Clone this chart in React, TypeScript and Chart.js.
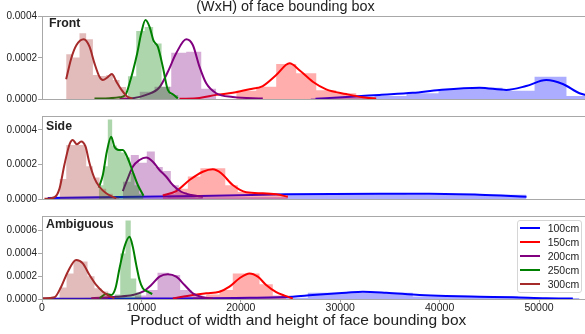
import React, { useEffect, useRef } from 'react';
import { Chart, registerables } from 'chart.js';
Chart.register(...registerables);

// ---------- data ----------
const SERIES = ['100cm', '150cm', '200cm', '250cm', '300cm'];
const X_MAX = 55730;
const X_TICKS = [0, 10000, 20000, 30000, 40000, 50000];
const PANELS = ['Front', 'Side', 'Ambiguous'];
const Y_MAX = [0.000403, 0.000481, 0.000729];
const Y_TICKS_FRONT = [0, 0.0002, 0.0004];
const Y_TICKS_SIDE = [0, 0.0002, 0.0004];
const Y_TICKS_AMBIG = [0, 0.0002, 0.0004, 0.0006];

// Front panel
const FRONT_HIST_EDGES = [
  [27010, 30230, 33450, 36670, 39890, 43110, 46330, 49550, 52760, 55980],
  [19540, 21550, 23560, 25570, 27590, 29600, 31610, 33620],
  [9810, 11320, 13000, 14510, 16020, 17520],
  [8630, 9480, 10330, 11180, 12030, 12880, 13730],
  [2430, 3100, 3770, 4440, 5120, 5780, 6460, 7130, 7800, 8470],
];
const FRONT_HIST_HEIGHTS = [
  [0.000005, 0.00001, 0.000015, 0.000028, 0.000047, 0.000055, 0.00004, 0.000108, 0.000015],
  [0.00004, 0.00006, 0.00017, 0.000125, 0.000042, 0.000028, 0.00001],
  [0.000035, 0.00006, 0.000225, 0.00023, 0.00005],
  [0.00011, 0.00033, 0.00035, 0.00027, 0.00006, 0.00002],
  [0.000217, 0.000202, 0.000319, 0.00029, 0.000116, 0.000112, 0.000116, 0.000092, 0.000058],
];
const FRONT_KDE_X = [
  [27510, 30600, 33950, 37300, 39990, 44010, 46700, 48710, 50720, 52390, 54070, 55580],
  [13830, 15840, 17520, 19190, 20870, 22210, 23560, 24900, 25900, 27240, 28590, 30600, 32270, 33620],
  [7800, 9130, 10480, 11820, 12660, 13500, 14510, 15170, 15840, 16520, 17520, 19190, 22210],
  [5280, 6790, 7800, 8400, 8900, 9130, 9580, 9980, 10410, 10810, 11220, 11650, 12150, 12660, 13160, 13660],
  [2430, 2940, 3470, 4200, 4780, 5280, 5780, 6120, 6590, 7020, 7490, 8000, 8500, 9100],
];
const FRONT_KDE_Y = [
  [0.000001, 0.00001, 0.00002, 0.00003, 0.000044, 0.000055, 0.000044, 0.000063, 0.000092, 0.000073, 0.000028, 0.00001],
  [0.000001, 0.000005, 0.00002, 0.00003, 0.000047, 0.000063, 0.000116, 0.000173, 0.00014, 0.000084, 0.000047, 0.000024, 0.000008, 0.000001],
  [0.000001, 0.000004, 0.00002, 0.000057, 0.000132, 0.000222, 0.00029, 0.000262, 0.000157, 0.000076, 0.000028, 0.00001, 0.000002],
  [0.000002, 0.000004, 0.000008, 0.00002, 0.000092, 0.000132, 0.000222, 0.000319, 0.000383, 0.000351, 0.000283, 0.000254, 0.000157, 0.000044, 0.000023, 0.000003],
  [0.0000955, 0.000197, 0.000262, 0.00029, 0.000254, 0.000173, 0.000108, 0.000092, 0.000105, 0.000121, 0.000084, 0.000044, 0.000015, 0.000002],
];

// Side panel
const SIDE_HIST_EDGES = [
  [580, 12630, 24660, 36670, 48730],
  [12150, 13410, 14670, 15930, 17180, 18440, 19700, 20960, 22210, 23470, 24730],
  [8130, 8930, 9740, 10540, 11350, 12150, 12960, 13760, 14570, 15370, 16180],
  [5710, 6170, 6620, 7060, 7520, 7970, 8410, 8860, 9310, 9760, 10210],
  [1760, 2440, 3100, 3770, 4450, 5110, 5790, 6460, 7120, 7800],
];
const SIDE_HIST_HEIGHTS = [
  [0.000006, 0.00001, 0.000027, 0.000024],
  [0.00003, 0.00006, 0.00013, 0.000178, 0.000178, 0.00008, 0.00004, 0.00003, 0.00003, 0.00002],
  [0.0001, 0.000255, 0.00021, 0.000275, 0.000185, 0.000162, 0.00008, 0.00004, 0.00002, 0.00001],
  [0.00008, 0.00019, 0.00046, 0.00031, 0.00029, 0.00027, 0.00024, 0.00015, 0.00008, 0.00003],
  [0.000116, 0.000313, 0.000313, 0.000313, 0.00019, 0.000125, 0.00006, 0.00003, 0.00001],
];
const SIDE_KDE_X = [
  [580, 15850, 24600, 33950, 38980, 44010, 48740],
  [12150, 13500, 14840, 16180, 17180, 18030, 19190, 20540, 22210, 23560, 24730],
  [8130, 8630, 9130, 9810, 10480, 11150, 11820, 12500, 13160, 14000, 15010, 16180],
  [5710, 6120, 6520, 6960, 7290, 7730, 8130, 8630, 9130, 9640, 10210],
  [250, 1260, 1760, 2260, 2770, 3100, 3500, 3940, 4380, 4780, 5280, 5780, 6460, 7460],
];
const SIDE_KDE_Y = [
  [0.000006, 0.000017, 0.000027, 0.000031, 0.00003, 0.000025, 0.000013],
  [0.00002, 0.000046, 0.00011, 0.000158, 0.000172, 0.000149, 0.000081, 0.000039, 0.000033, 0.000027, 0.000013],
  [0.000046, 0.00012, 0.000187, 0.000226, 0.00024, 0.000216, 0.000168, 0.000129, 0.000081, 0.000042, 0.000023, 0.000013],
  [0.000066, 0.000139, 0.000274, 0.000361, 0.000303, 0.000284, 0.000284, 0.000236, 0.000158, 0.000081, 0.000019],
  [0.000001, 0.00001, 0.00006, 0.0002, 0.000317, 0.000342, 0.000317, 0.000333, 0.000303, 0.000207, 0.00012, 0.000071, 0.000033, 0.000004],
];

// Ambiguous panel
const AMBIG_HIST_EDGES = [
  [16180, 26740, 37300, 47870, 54070],
  [15170, 16520, 17860, 19190, 20540, 21880, 23220, 24570],
  [9340, 10480, 11620, 12760, 13900, 15040, 16180],
  [7310, 7870, 8400, 8930, 9480, 10010],
  [1060, 1760, 2470, 3170, 3870, 4580, 5280, 5990, 6690],
];
const AMBIG_HIST_HEIGHTS = [
  [0.00001, 0.000055, 0.000022, 0.000008],
  [0.00002, 0.00004, 0.00008, 0.000225, 0.000225, 0.00013, 0.00003],
  [0.00003, 0.00008, 0.00023, 0.00021, 0.00008, 0.00003],
  [0.00004, 0.0004, 0.00069, 0.00018, 0.00006],
  [0.00001, 0.0001, 0.000225, 0.00034, 0.00033, 0.0002, 0.000095, 0.000065],
];
const AMBIG_KDE_X = [
  [80, 10820, 20880, 25230, 27240, 30600, 32270, 34630, 37980, 40660, 44010, 47360, 50720, 53400],
  [13160, 15170, 16520, 17860, 18860, 19870, 20880, 21710, 22550, 23560, 24400, 25230],
  [4950, 7470, 9130, 10140, 10990, 11820, 12660, 13500, 14340, 15170, 16180, 17180],
  [5790, 6460, 6960, 7390, 7800, 8300, 8800, 9130, 9480, 9810, 10140, 10640, 11090],
  [80, 1260, 1930, 2600, 3440, 4100, 4780, 5450, 6120, 6790, 7290],
];
const AMBIG_KDE_Y = [
  [0.000002, 0.000004, 0.00001, 0.00002, 0.000035, 0.000055, 0.000064, 0.000055, 0.000035, 0.000026, 0.00002, 0.000015, 0.000006, 0.000004],
  [0.000004, 0.000035, 0.00005, 0.000064, 0.000108, 0.000182, 0.000225, 0.000196, 0.000123, 0.00006, 0.00003, 0.000004],
  [0.000006, 0.00002, 0.000035, 0.000064, 0.000123, 0.000196, 0.000217, 0.000196, 0.000123, 0.00005, 0.000015, 0.000005],
  [0.000006, 0.000044, 0.000035, 0.000094, 0.00027, 0.00046, 0.000547, 0.00046, 0.0003, 0.000167, 0.000094, 0.000064, 0.000044],
  [0.000006, 0.000015, 0.000108, 0.00024, 0.000342, 0.000313, 0.00021, 0.000123, 0.000064, 0.000026, 0.000006],
];

// ---------- styles ----------
const LINE_COLORS = ['#0000ff', '#ff0000', '#800080', '#008000', '#a52a2a'];
const HIST_COLORS = [
  'rgba(0,0,255,0.32)',
  'rgba(255,0,0,0.32)',
  'rgba(128,0,128,0.32)',
  'rgba(0,128,0,0.32)',
  'rgba(165,42,42,0.32)',
];
const FRAME_COLOR = '#a8a8a8';
const TEXT_COLOR = '#222';
const FONT = "'Liberation Sans', Arial, sans-serif";

function buildDatasets(edges: number[][], heights: number[][], kx: number[][], ky: number[][]) {
  const ds: any[] = [];
  const total = SERIES.length * 2;
  let k = 0;
  for (let s = 0; s < SERIES.length; s++) {
    const e = edges[s];
    const h = heights[s];
    const pts = h.map((v, i) => ({ x: e[i], y: v }));
    pts.push({ x: e[h.length], y: h[h.length - 1] });
    ds.push({
      label: SERIES[s] + ' hist',
      data: pts,
      stepped: 'before',
      fill: 'origin',
      backgroundColor: HIST_COLORS[s],
      borderColor: 'rgba(0,0,0,0)',
      borderWidth: 0,
      pointRadius: 0,
      order: total - k++,
    });
    ds.push({
      label: SERIES[s],
      data: kx[s].map((x, i) => ({ x, y: ky[s][i] })),
      borderColor: LINE_COLORS[s],
      borderWidth: 2,
      pointRadius: 0,
      fill: false,
      cubicInterpolationMode: 'monotone',
      order: total - k++,
    });
  }
  return ds;
}

const framePlugin = {
  id: 'frame',
  afterDatasetsDraw(chart: any) {
    const { ctx, chartArea: a } = chart;
    ctx.save();
    ctx.strokeStyle = FRAME_COLOR;
    ctx.lineWidth = 1;
    ctx.strokeRect(Math.round(a.left) + 0.5, Math.round(a.top) + 0.5, Math.round(a.right - a.left), Math.round(a.bottom - a.top));
    ctx.restore();
  },
};

function makeChart(canvas: HTMLCanvasElement, idx: number) {
  const data = [
    [FRONT_HIST_EDGES, FRONT_HIST_HEIGHTS, FRONT_KDE_X, FRONT_KDE_Y],
    [SIDE_HIST_EDGES, SIDE_HIST_HEIGHTS, SIDE_KDE_X, SIDE_KDE_Y],
    [AMBIG_HIST_EDGES, AMBIG_HIST_HEIGHTS, AMBIG_KDE_X, AMBIG_KDE_Y],
  ][idx];
  const yTicks = [Y_TICKS_FRONT, Y_TICKS_SIDE, Y_TICKS_AMBIG][idx];
  const showX = idx === 2;
  return new Chart(canvas, {
    type: 'line',
    data: { datasets: buildDatasets(data[0], data[1], data[2], data[3]) },
    plugins: [framePlugin],
    options: {
      animation: false,
      responsive: false,
      devicePixelRatio: 1,
      layout: { padding: { top: 16, bottom: showX ? 15 : 16, left: 0, right: 4 } },
      plugins: { legend: { display: false }, tooltip: { enabled: false }, title: { display: false } },
      elements: { line: { tension: 0 } },
      scales: {
        x: {
          type: 'linear',
          min: 0,
          max: X_MAX,
          display: showX,
          afterBuildTicks: (s: any) => { s.ticks = X_TICKS.map((v) => ({ value: v })); },
          afterFit: (s: any) => { s.height = showX ? 20 : 0; },
          ticks: {
            callback: (v: any) => String(v),
            font: { family: FONT, size: 10.5 },
            color: TEXT_COLOR,
            padding: -1,
            maxRotation: 0,
          },
          grid: { drawOnChartArea: false, drawTicks: true, tickLength: 3.5, color: FRAME_COLOR },
          border: { display: false },
        },
        y: {
          type: 'linear',
          min: 0,
          max: Y_MAX[idx],
          afterBuildTicks: (s: any) => { s.ticks = yTicks.map((v) => ({ value: v })); },
          afterFit: (s: any) => { s.width = 42; },
          ticks: {
            callback: (v: any) => Number(v).toFixed(4),
            font: { family: FONT, size: 10 },
            color: TEXT_COLOR,
            padding: 1,
          },
          grid: { drawOnChartArea: false, drawTicks: true, tickLength: 4, color: FRAME_COLOR },
          border: { display: false },
        },
      },
    } as any,
  });
}

const LEGEND_Y = [7.3, 21.3, 35, 49, 63];

export default function App() {
  const r1 = useRef<HTMLCanvasElement>(null);
  const r2 = useRef<HTMLCanvasElement>(null);
  const r3 = useRef<HTMLCanvasElement>(null);
  useEffect(() => {
    const charts = [r1, r2, r3].map((r, i) => makeChart(r.current as HTMLCanvasElement, i));
    return () => charts.forEach((c) => c.destroy());
  }, []);
  const cv = (top: number, h: number) => ({ position: 'absolute' as const, left: 0, top, width: 600, height: h });
  const txt = (left: number, top: number, size: number, bold = false) => ({
    position: 'absolute' as const, left, top, fontSize: size, lineHeight: size + 'px',
    fontWeight: bold ? 700 : 400, color: TEXT_COLOR, whiteSpace: 'nowrap' as const, fontFamily: FONT,
  });
  return (
    <div style={{ position: 'fixed', left: 0, top: 0, width: 585, height: 334, overflow: 'hidden', background: '#fff', fontFamily: FONT }}>
      <canvas ref={r1} width={600} height={115} style={cv(0, 115)} />
      <canvas ref={r2} width={600} height={115} style={cv(100, 115)} />
      <canvas ref={r3} width={600} height={134} style={cv(200, 134)} />
      <div style={{ ...txt(0, -0.7, 14.4), width: 571, textAlign: 'center' }}>(WxH) of face bounding box</div>
      <div style={{ ...txt(0, 311.9, 15.5), width: 596.6, textAlign: 'center' }}>Product of width and height of face bounding box</div>
      <div style={txt(49, 16.9, 12.3, true)}>{PANELS[0]}</div>
      <div style={txt(46, 120.3, 12.3, true)}>{PANELS[1]}</div>
      <div style={txt(46, 217.9, 12.3, true)}>{PANELS[2]}</div>
      <div style={{ position: 'absolute', left: 516.5, top: 220, width: 65.5, height: 73, border: '1px solid #d6d6d6', borderRadius: 3, background: 'rgba(255,255,255,0.8)', boxSizing: 'border-box' }}>
        {SERIES.map((s, i) => (
          <React.Fragment key={s}>
            <div style={{ position: 'absolute', left: 2.5, top: LEGEND_Y[i] - 1, width: 20, height: 2, background: LINE_COLORS[i] }} />
            <div style={{ ...txt(30.2, LEGEND_Y[i] - 7, 10.5), lineHeight: '14px' }}>{s}</div>
          </React.Fragment>
        ))}
      </div>
    </div>
  );
}
